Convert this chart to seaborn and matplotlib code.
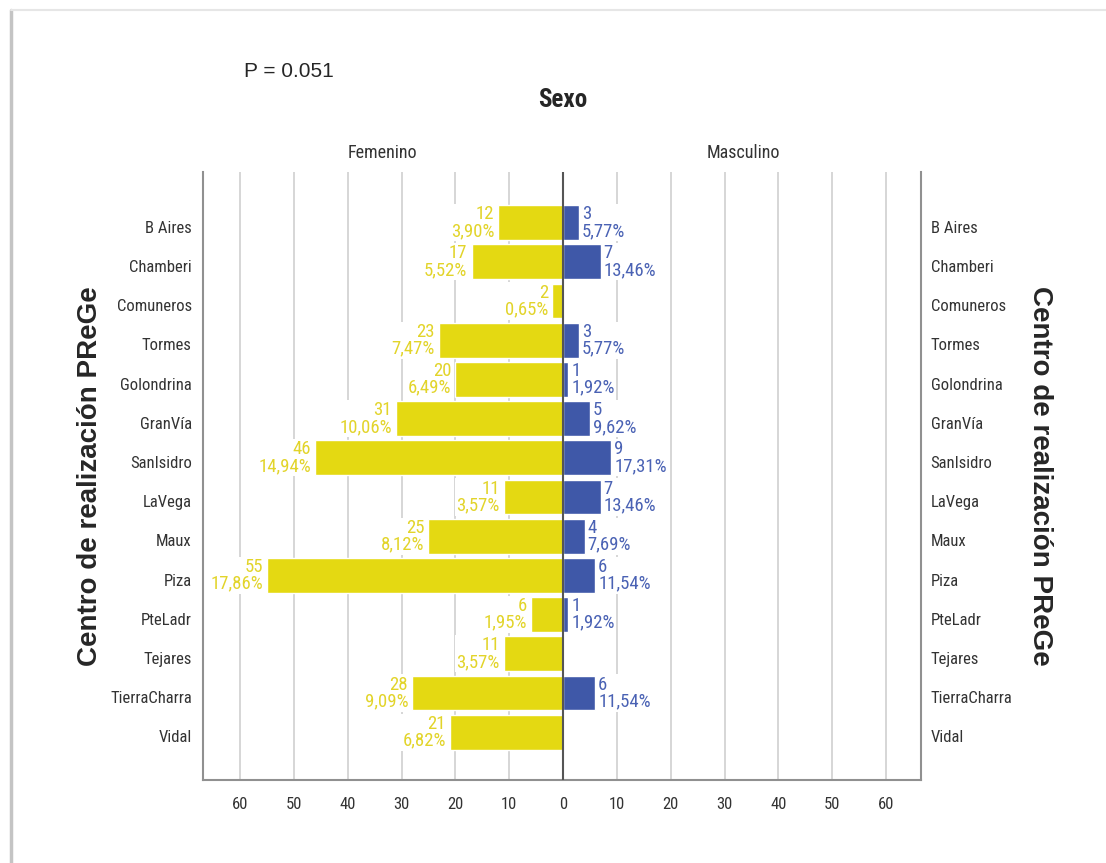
import pandas as pd
import seaborn as sns
import matplotlib.pyplot as plt
from matplotlib.lines import Line2D
from matplotlib.transforms import ScaledTranslation

# datos
centros = ['B Aires', 'Chamberi', 'Comuneros', 'Tormes', 'Golondrina', 'GranVía',
           'SanIsidro', 'LaVega', 'Maux', 'Piza', 'PteLadr', 'Tejares',
           'TierraCharra', 'Vidal']
fem_n = [12, 17, 2, 23, 20, 31, 46, 11, 25, 55, 6, 11, 28, 21]
fem_pct = ['3,90%', '5,52%', '0,65%', '7,47%', '6,49%', '10,06%', '14,94%',
           '3,57%', '8,12%', '17,86%', '1,95%', '3,57%', '9,09%', '6,82%']
masc_n = [3, 7, 0, 3, 1, 5, 9, 7, 4, 6, 1, 0, 6, 0]
masc_pct = ['5,77%', '13,46%', '', '5,77%', '1,92%', '9,62%', '17,31%',
            '13,46%', '7,69%', '11,54%', '1,92%', '', '11,54%', '']
ticks = [-60, -50, -40, -30, -20, -10, 0, 10, 20, 30, 40, 50, 60]

amarillo = '#E4D912'
azul = '#3F58A8'
txt_amarillo = '#E2D42A'
txt_azul = '#4A62B4'

df = pd.DataFrame({'centro': centros, 'fem': [-v for v in fem_n], 'masc': masc_n})

sns.set_style('white')
# fuente estrecha tipo SPSS si existe
estrecha = ['Liberation Sans Narrow', 'Arial Narrow', 'Roboto Condensed',
            'PT Sans Narrow', 'Archivo Narrow', 'Liberation Sans', 'DejaVu Sans']
normal = ['Liberation Sans', 'DejaVu Sans']
plt.rcParams['font.family'] = estrecha

fig = plt.figure(figsize=(11.06, 8.63), dpi=100)
ax = fig.add_axes([0.1835, 0.0962, 0.6492, 0.7045])

sns.barplot(data=df, x='fem', y='centro', color=amarillo, orient='h', width=0.89,
            saturation=1, ax=ax, zorder=3)
sns.barplot(data=df, x='masc', y='centro', color=azul, orient='h', width=0.89,
            saturation=1, ax=ax, zorder=3)

ax.set_xlim(-66.9, 66.5)
ax.set_ylim(14.22, -1.29)
ax.set_xticks(ticks)
ax.set_xticklabels([str(abs(t)) for t in ticks], fontsize=12, color='#333333')
for t in ticks:
    if t != 0:
        ax.axvline(t, color='#cfcfcf', lw=1.2, zorder=1)
ax.axvline(0, color='#555555', lw=1.5, zorder=4)
ax.tick_params(axis='x', length=0, pad=12)
ax.tick_params(axis='y', length=0, pad=8, labelsize=12, labelcolor='#333333')
ax.set_xlabel('')
ax.set_ylabel('Centro de realización PReGe', fontsize=20, fontweight='bold',
              family=normal, va='center')
ax.yaxis.set_label_coords(-0.157, 0.5)
for s in ['left', 'right', 'bottom']:
    ax.spines[s].set_color('#909090')
    ax.spines[s].set_linewidth(1.5)
ax.spines['top'].set_visible(False)

# etiquetas de las barras
for i in range(len(centros)):
    ax.annotate(f'{fem_n[i]}\n{fem_pct[i]}', xy=(-fem_n[i], i), xytext=(-3, 0),
                textcoords='offset points', ha='right', va='center', fontsize=13.5,
                color=txt_amarillo, linespacing=0.9, zorder=5,
                bbox=dict(facecolor='white', edgecolor='none', pad=1))
    if masc_n[i] > 0:
        ax.annotate(f'{masc_n[i]}\n{masc_pct[i]}', xy=(masc_n[i], i), xytext=(2, 0),
                    textcoords='offset points', ha='left', va='center', fontsize=13.5,
                    color=txt_azul, linespacing=0.9, zorder=5,
                    bbox=dict(facecolor='white', edgecolor='none', pad=1))

# etiquetas a la derecha
ax2 = ax.twinx()
ax2.set_ylim(ax.get_ylim())
ax2.set_yticks(range(len(centros)))
ax2.set_yticklabels(centros, fontsize=12, color='#333333')
ax2.tick_params(axis='y', length=0, pad=7)
ax2.set_ylabel('Centro de realización PReGe', fontsize=20, fontweight='bold',
               family=normal, rotation=270, va='center')
ax2.yaxis.set_label_coords(1.166, 0.5)
for s in ax2.spines.values():
    s.set_visible(False)

# las etiquetas de los centros van un poco por debajo del centro de la barra
baja = ScaledTranslation(0, -3 / 72, fig.dpi_scale_trans)
for lbl in ax.get_yticklabels() + ax2.get_yticklabels():
    lbl.set_transform(lbl.get_transform() + baja)

ax.text(-33.5, 1.031, 'Femenino', transform=ax.get_xaxis_transform(), ha='center',
        va='center', fontsize=13, color='#333333')
ax.text(33.5, 1.031, 'Masculino', transform=ax.get_xaxis_transform(), ha='center',
        va='center', fontsize=13, color='#333333')
fig.text(0.509, 0.884, 'Sexo', ha='center', va='center', fontsize=18, fontweight='bold')
fig.text(0.221, 0.917, 'P = 0.051', ha='left', va='center', fontsize=15, family=normal)

# marco de la captura
fig.add_artist(Line2D([0.010, 0.010], [0.0, 0.988], transform=fig.transFigure,
                      color='#c4c4c4', lw=2.5))
fig.add_artist(Line2D([0.010, 1.0], [0.988, 0.988], transform=fig.transFigure,
                      color='#e6e6e6', lw=1.5))

fig.savefig('out.png', dpi=100)
